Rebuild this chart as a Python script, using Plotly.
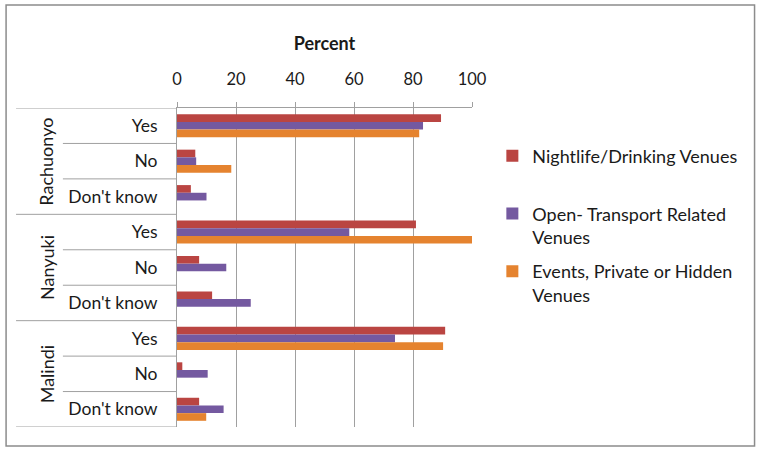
import plotly.graph_objects as go

sites = ["Rachuonyo", "Nanyuki", "Malindi"]
answers = ["Yes", "No", "Don't know"]
series_names = ["Nightlife/Drinking Venues<br>&nbsp;",
                "Open- Transport Related<br>Venues",
                "Events, Private or Hidden<br>Venues"]
nightlife = [89.5, 6.2, 4.7, 81.0, 7.5, 11.9, 90.9, 1.8, 7.5]
transport = [83.4, 6.5, 10.0, 58.4, 16.7, 25.0, 73.9, 10.4, 15.8]
events = [82.1, 18.4, 0, 100, 0, 0, 90.2, 0, 9.9]
colors = ["#BA4542", "#7459A0", "#E5832F"]

labels = [a for s in sites for a in answers]
pos = list(range(len(labels)))

fig = go.Figure()
for name, vals, col in zip(series_names, [nightlife, transport, events], colors):
    fig.add_trace(go.Bar(y=pos, x=vals, orientation="h", name=name,
                         marker=dict(color=col, line=dict(width=0)),
                         legendgroup=name))

FONT = "Lato, Arial, sans-serif"
grey = "#A0A0A0"
shapes = []
# category divider lines in the label area
for i in range(len(labels) + 1):
    yv = i - 0.5
    x0 = -0.5456 if i % 3 == 0 else -0.3868
    shapes.append(dict(type="line", xref="paper", yref="y", x0=x0, x1=0,
                       y0=yv, y1=yv, line=dict(color=grey, width=1)))
# outer border
shapes.append(dict(type="rect", xref="paper", yref="paper", x0=-0.5794, x1=1.9578,
                   y0=-0.0596, y1=1.3229, line=dict(color="#8C8C8C", width=1.5)))

annotations = []
for k, s in enumerate(sites):
    annotations.append(dict(text=s, xref="paper", yref="y", x=-0.4865, y=3 * k + 1,
                            textangle=-90, showarrow=False,
                            font=dict(family=FONT, size=18, color="#1a1a1a")))

fig.update_layout(
    width=762, height=454,
    margin=dict(l=176.5, r=289.5, t=108, b=27),
    paper_bgcolor="white", plot_bgcolor="white",
    barmode="group", bargap=0.35, bargroupgap=0,
    font=dict(family=FONT, size=16, color="#1a1a1a"),
    xaxis=dict(side="top", range=[0, 100], tickvals=[0, 20, 40, 60, 80, 100],
               showgrid=True, gridcolor=grey, gridwidth=1,
               showline=True, linecolor=grey, linewidth=1,
               ticks="outside", ticklen=5, tickcolor=grey,
               zeroline=False, ticklabelstandoff=10,
               title=dict(text="<b>Percent</b>", font=dict(size=18), standoff=14),
               tickfont=dict(size=16.5)),
    yaxis=dict(range=[8.5, -0.5], tickvals=pos, ticktext=labels,
               showgrid=False, zeroline=False,
               showline=True, linecolor=grey, linewidth=1,
               ticks="", ticklabelstandoff=15, tickfont=dict(size=17.5)),
    legend=dict(x=1.069, y=0.9075, xanchor="left", yanchor="top",
                traceorder="grouped", tracegroupgap=8, valign="top",
                font=dict(size=18), itemwidth=30, bgcolor="rgba(0,0,0,0)"),
    shapes=shapes, annotations=annotations,
)

fig.write_html("out.html", config={"displayModeBar": False},
               post_script="document.body.style.margin='0';")
